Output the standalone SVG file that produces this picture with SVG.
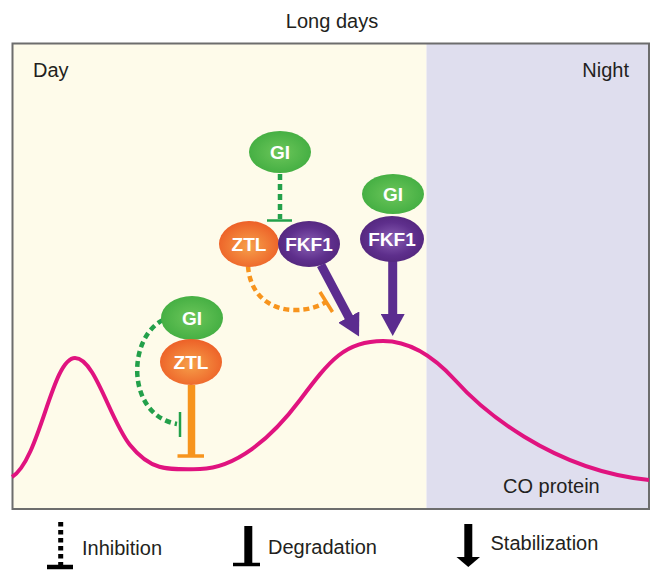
<svg xmlns="http://www.w3.org/2000/svg" width="662" height="582" viewBox="0 0 662 582">
<style>
.lbl{font-family:"Liberation Sans",Arial,sans-serif;font-size:20px;fill:#231f20}
.nt{font-family:"Liberation Sans",Arial,sans-serif;font-size:19px;font-weight:bold;fill:#ffffff;text-anchor:middle}
.gdash{fill:none;stroke:#23a04a;stroke-width:4.5;stroke-dasharray:6 4}
.odash{fill:none;stroke:#f7941d;stroke-width:4.5;stroke-dasharray:6 4}
.gbar{stroke:#23a04a;stroke-width:2.5;fill:none}
.obar{stroke:#f7941d;fill:none}
.parrow{stroke:#5b2c8f;stroke-width:9;fill:none}
.blk{stroke:#000;fill:none}
</style>
<defs>
<radialGradient id="gG" cx="50%" cy="50%" r="60%">
<stop offset="0" stop-color="#6cc65a"/><stop offset="1" stop-color="#3eab3f"/>
</radialGradient>
<radialGradient id="gO" cx="50%" cy="55%" r="60%">
<stop offset="0" stop-color="#f6a04a"/><stop offset="1" stop-color="#ec5a24"/>
</radialGradient>
<radialGradient id="gP" cx="50%" cy="50%" r="60%">
<stop offset="0" stop-color="#8a5fb4"/><stop offset="0.6" stop-color="#5e2f8c"/><stop offset="1" stop-color="#4f2378"/>
</radialGradient>
<marker id="ah" markerUnits="userSpaceOnUse" markerWidth="22" markerHeight="24" refX="1" refY="12" orient="auto" viewBox="0 0 22 24">
<path d="M0,0 L22,12 L0,24 z" fill="#5b2c8f"/>
</marker>
</defs>

<g id="background">
<rect x="12.5" y="43.5" width="414" height="465.5" fill="#fefbea"/>
<rect x="426.5" y="43.5" width="222.5" height="465.5" fill="#dfdeee"/>
<rect x="12.5" y="43.5" width="636.5" height="465.5" fill="none" stroke="#6d6d6d" stroke-width="2"/>
</g>

<g id="labels">
<text class="lbl" x="332" y="28" text-anchor="middle">Long days</text>
<text class="lbl" x="33" y="77">Day</text>
<text class="lbl" x="629" y="77" text-anchor="end">Night</text>
<text class="lbl" x="503" y="493">CO protein</text>
</g>

<g id="co-curve">
<path d="M12,477 C40,460 52,358 75,358 C95,358 110,420 130,445 S165,470 200,469 C235,468 270,440 300,400 S345,341 383,341 C410,341 435,358 455,380 C480,408 550,470 649,480" fill="none" stroke="#e0137f" stroke-width="4"/>
</g>

<g id="connectors">
<path class="gdash" d="M280,174 L280,219"/>
<line class="gbar" x1="267" y1="220.5" x2="292" y2="220.5"/>
<path class="odash" d="M248,266 C250,295 270,310 295,310 C308,310 318,307 326,302"/>
<line class="obar" x1="320" y1="292" x2="332.5" y2="312" stroke-width="3.5"/>
<path class="gdash" d="M163,320 C127,338 126,415 177,424"/>
<line class="gbar" x1="180" y1="412" x2="180" y2="437"/>
<line class="obar" x1="191.5" y1="385" x2="191.5" y2="456" stroke-width="7.5"/>
<line class="obar" x1="177.5" y1="456" x2="204" y2="456" stroke-width="3.5"/>
<line class="parrow" x1="321" y1="265" x2="349.2" y2="318" marker-end="url(#ah)"/>
<line class="parrow" x1="392.7" y1="258" x2="392.7" y2="315" marker-end="url(#ah)"/>
</g>

<g id="GI_top">
<ellipse cx="280" cy="152" rx="31" ry="21" fill="url(#gG)"/>
<text class="nt" x="280" y="158.5">GI</text>
</g>
<g id="ZTL_mid">
<ellipse cx="249" cy="244" rx="30" ry="23" fill="url(#gO)"/>
<text class="nt" x="249" y="250.5">ZTL</text>
</g>
<g id="FKF1_mid">
<ellipse cx="309" cy="244" rx="31" ry="23" fill="url(#gP)"/>
<text class="nt" x="309" y="250.5">FKF1</text>
</g>
<g id="GI_right">
<ellipse cx="393" cy="194" rx="31" ry="20" fill="url(#gG)"/>
<text class="nt" x="393" y="200.5">GI</text>
</g>
<g id="FKF1_right">
<ellipse cx="392" cy="239" rx="32" ry="23" fill="url(#gP)"/>
<text class="nt" x="392" y="245.5">FKF1</text>
</g>
<g id="GI_left">
<ellipse cx="192" cy="318" rx="31" ry="22" fill="url(#gG)"/>
<text class="nt" x="192" y="324.5">GI</text>
</g>
<g id="ZTL_left">
<ellipse cx="191" cy="362" rx="31" ry="23" fill="url(#gO)"/>
<text class="nt" x="191" y="368.5">ZTL</text>
</g>

<g id="legend">
<line class="blk" x1="60.7" y1="522" x2="60.7" y2="565" stroke-width="5" stroke-dasharray="4.5 3.5"/>
<line class="blk" x1="47" y1="567" x2="73" y2="567" stroke-width="4.5"/>
<text class="lbl" x="82" y="555">Inhibition</text>
<line class="blk" x1="248.3" y1="526" x2="248.3" y2="564" stroke-width="8"/>
<line class="blk" x1="233" y1="564.5" x2="260" y2="564.5" stroke-width="3.5"/>
<text class="lbl" x="268" y="554">Degradation</text>
<line class="blk" x1="468.3" y1="524" x2="468.3" y2="558" stroke-width="8"/>
<path d="M456.5,557 L480,557 L468.3,567 z" fill="#000"/>
<text class="lbl" x="490.5" y="550">Stabilization</text>
</g>
</svg>
